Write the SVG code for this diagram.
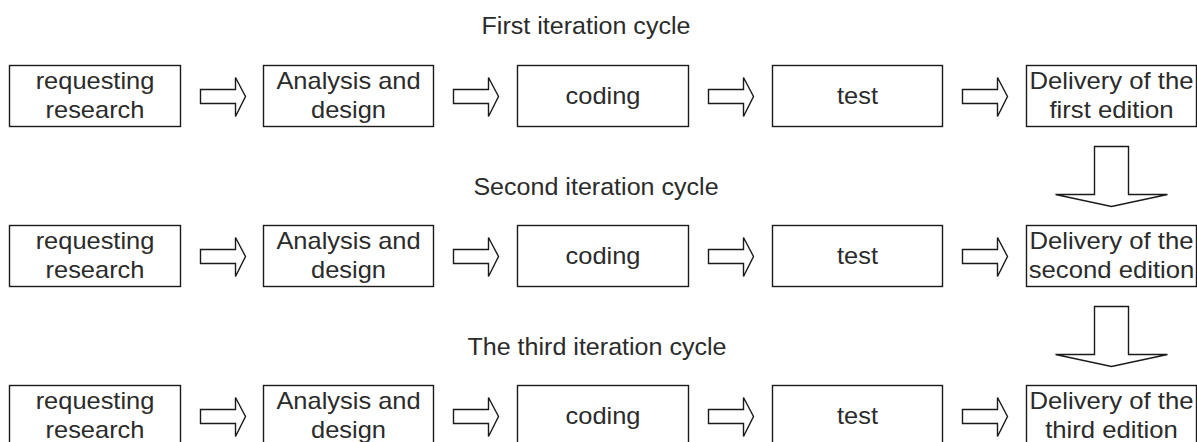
<svg xmlns="http://www.w3.org/2000/svg" width="1197" height="442" viewBox="0 0 1197 442">
<style>
.box{fill:#fff;stroke:#1a1a1a;stroke-width:1.4}
.arr{fill:#fff;stroke:#1a1a1a;stroke-width:1.4;stroke-linejoin:miter}
.t{font-family:"Liberation Sans",Arial,Helvetica,sans-serif;font-size:24px;fill:#2b2b2b;text-anchor:middle}
</style>
<defs>
<polygon id="ra" class="arr" points="0,-7 35,-7 35,-19 45,0 35,20 35,7 0,7"/>
<polygon id="da" class="arr" points="39,0 73,0 73,48 112,48 56,60 0,48 39,48"/>
</defs>
<rect width="1197" height="442" fill="#fff"/>
<g id="titles">
<text class="t" transform="translate(586,34) scale(1.045,1)">First iteration cycle</text>
<text class="t" transform="translate(596,195) scale(1.045,1)">Second iteration cycle</text>
<text class="t" transform="translate(597,355) scale(1.045,1)">The third iteration cycle</text>
</g>

<g id="r1">
<g id="r1n1"><rect class="box" x="9.5" y="65.5" width="171" height="61"/><g transform="translate(95,0) scale(1.06,1)"><text class="t" y="89">requesting</text><text class="t" y="118">research</text></g></g>
<g id="r1n2"><rect class="box" x="263.5" y="65.5" width="170" height="61"/><g transform="translate(348.5,0) scale(1.06,1)"><text class="t" y="89">Analysis and</text><text class="t" y="118">design</text></g></g>
<g id="r1n3"><rect class="box" x="517.5" y="65.5" width="171" height="61"/><g transform="translate(603,0) scale(1.06,1)"><text class="t" y="104">coding</text></g></g>
<g id="r1n4"><rect class="box" x="772.5" y="65.5" width="170" height="61"/><g transform="translate(857.5,0) scale(1.06,1)"><text class="t" y="104">test</text></g></g>
<g id="r1n5"><rect class="box" x="1026.5" y="65.5" width="170" height="61"/><g transform="translate(1111.5,0) scale(1.07,1)"><text class="t" y="89">Delivery of the</text><text class="t" y="118">first edition</text></g></g>
</g>

<g id="r2">
<g id="r2n1"><rect class="box" x="9.5" y="225.5" width="171" height="61"/><g transform="translate(95,0) scale(1.06,1)"><text class="t" y="249">requesting</text><text class="t" y="278">research</text></g></g>
<g id="r2n2"><rect class="box" x="263.5" y="225.5" width="170" height="61"/><g transform="translate(348.5,0) scale(1.06,1)"><text class="t" y="249">Analysis and</text><text class="t" y="278">design</text></g></g>
<g id="r2n3"><rect class="box" x="517.5" y="225.5" width="171" height="61"/><g transform="translate(603,0) scale(1.06,1)"><text class="t" y="264">coding</text></g></g>
<g id="r2n4"><rect class="box" x="772.5" y="225.5" width="170" height="61"/><g transform="translate(857.5,0) scale(1.06,1)"><text class="t" y="264">test</text></g></g>
<g id="r2n5"><rect class="box" x="1026.5" y="225.5" width="170" height="61"/><g transform="translate(1111.5,0) scale(1.07,1)"><text class="t" y="249">Delivery of the</text><text class="t" y="278">second edition</text></g></g>
</g>

<g id="r3">
<g id="r3n1"><rect class="box" x="9.5" y="385.5" width="171" height="61"/><g transform="translate(95,0) scale(1.06,1)"><text class="t" y="409">requesting</text><text class="t" y="438">research</text></g></g>
<g id="r3n2"><rect class="box" x="263.5" y="385.5" width="170" height="61"/><g transform="translate(348.5,0) scale(1.06,1)"><text class="t" y="409">Analysis and</text><text class="t" y="438">design</text></g></g>
<g id="r3n3"><rect class="box" x="517.5" y="385.5" width="171" height="61"/><g transform="translate(603,0) scale(1.06,1)"><text class="t" y="424">coding</text></g></g>
<g id="r3n4"><rect class="box" x="772.5" y="385.5" width="170" height="61"/><g transform="translate(857.5,0) scale(1.06,1)"><text class="t" y="424">test</text></g></g>
<g id="r3n5"><rect class="box" x="1026.5" y="385.5" width="170" height="61"/><g transform="translate(1111.5,0) scale(1.07,1)"><text class="t" y="409">Delivery of the</text><text class="t" y="438">third edition</text></g></g>
</g>

<g id="connectors">
<use href="#ra" x="200.5" y="96.5"/>
<use href="#ra" x="453.5" y="96.5"/>
<use href="#ra" x="708.5" y="96.5"/>
<use href="#ra" x="962.5" y="96.5"/>
<use href="#ra" x="200.5" y="256.5"/>
<use href="#ra" x="453.5" y="256.5"/>
<use href="#ra" x="708.5" y="256.5"/>
<use href="#ra" x="962.5" y="256.5"/>
<use href="#ra" x="200.5" y="416.5"/>
<use href="#ra" x="453.5" y="416.5"/>
<use href="#ra" x="708.5" y="416.5"/>
<use href="#ra" x="962.5" y="416.5"/>
<use href="#da" x="1055.5" y="146.5"/>
<use href="#da" x="1055.5" y="306.5"/>
</g>
</svg>
